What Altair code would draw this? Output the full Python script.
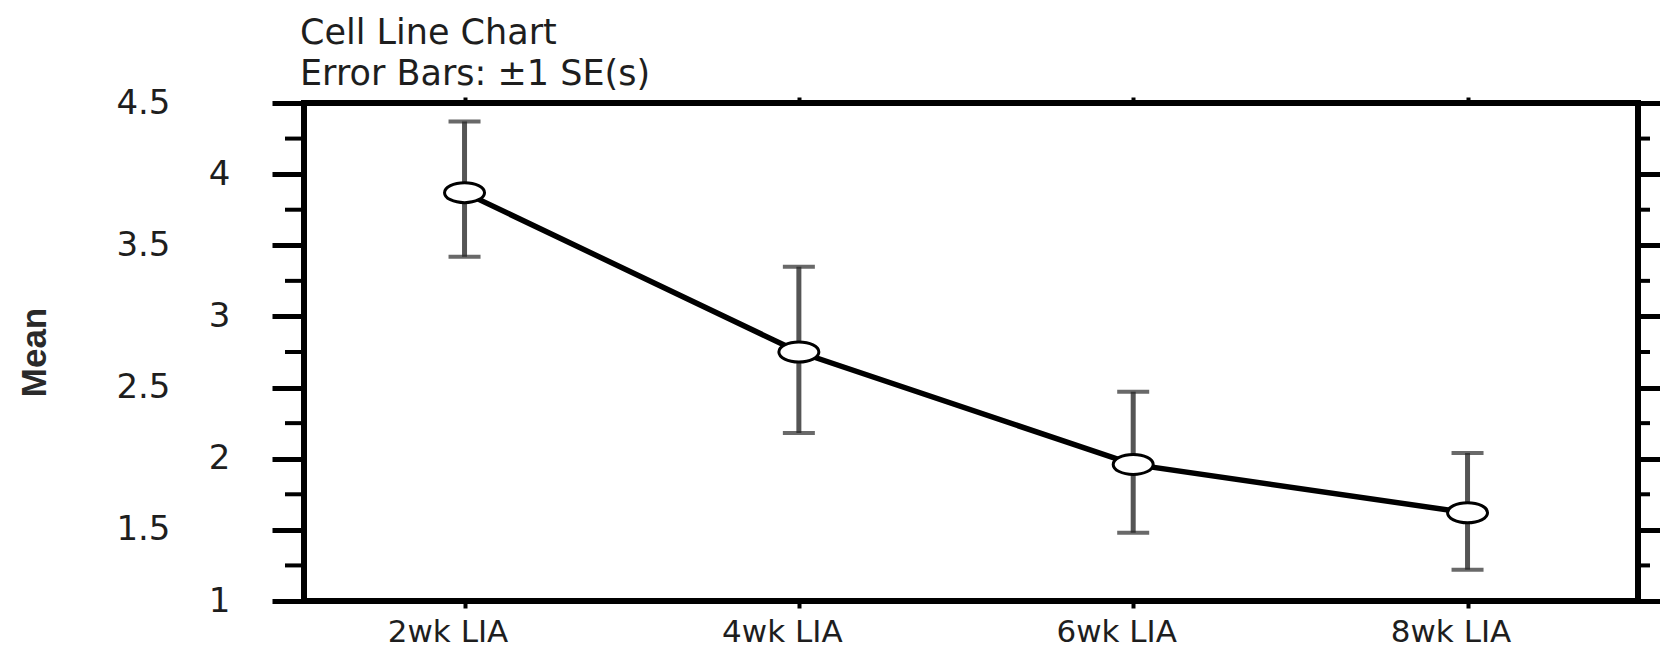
import altair as alt
import pandas as pd

# ---- data ----
categories = ["2wk LIA", "4wk LIA", "6wk LIA", "8wk LIA"]
means = [3.87, 2.75, 1.96, 1.62]
lower = [3.42, 2.18, 1.48, 1.22]
upper = [4.37, 3.35, 2.47, 2.04]
major_ticks = [1, 1.5, 2, 2.5, 3, 3.5, 4, 4.5]
minor_ticks = [1.25, 1.75, 2.25, 2.75, 3.25, 3.75, 4.25]

title_text = "Cell Line Chart"
subtitle_text = "Error Bars: \u00b11 SE(s)"
y_title = "Mean"

df = pd.DataFrame({"group": categories, "mean": means, "lower": lower, "upper": upper})
minor_df = pd.DataFrame({"v": minor_ticks})

W, H = 1334, 498
FONT = "DejaVu Sans"
TXT = "#1e1e1e"

x_scale = alt.Scale(type="point", domain=categories, padding=0.495, align=0.485)
y_scale = alt.Scale(domain=[1, 4.5], nice=False, zero=False)

base = alt.Chart(df)

# vertical error bars + left / bottom axes
err = base.mark_rule(color="#555555", strokeWidth=5).encode(
    x=alt.X("group:N", scale=x_scale, sort=categories,
            axis=alt.Axis(orient="bottom", title=None, labelAngle=0, domain=False,
                          ticks=True, tickSize=7, tickWidth=4, tickColor="black",
                          labelFont=FONT, labelFontSize=31, labelColor=TXT,
                          labelBaseline="alphabetic", labelPadding=33,
                          labelOffset=-17, grid=False)),
    y=alt.Y("lower:Q", scale=y_scale,
            axis=alt.Axis(orient="left", values=major_ticks, format="~g", grid=False,
                          domain=False, tickSize=32, tickWidth=5, tickColor="black",
                          labelFont=FONT, labelFontSize=34, labelColor=TXT,
                          labelAlign="right",
                          labelPadding={"condition": {"test": "datum.value % 1 == 0", "value": 42},
                                        "value": 102},
                          title=y_title, titleX=-270, titleY=H / 2, titleAngle=270,
                          titleAlign="center", titleBaseline="middle",
                          titleFont="Liberation Sans", titleFontSize=35,
                          titleFontWeight="bold", titleColor="#2a2a2a")),
    y2="upper:Q",
)

# caps + top / right axes
caps_lo = base.mark_tick(color="#2a2a2a", thickness=4, size=32, orient="horizontal").encode(
    x=alt.X("group:N", scale=x_scale, sort=categories,
            axis=alt.Axis(orient="top", title=None, labels=False, domain=False,
                          ticks=True, tickSize=6, tickWidth=4, tickColor="black", grid=False)),
    y=alt.Y("lower:Q", scale=y_scale,
            axis=alt.Axis(orient="right", values=major_ticks, labels=False, grid=False,
                          domain=False, tickSize=24, tickWidth=5, tickColor="black", title=None)),
)
caps_hi = base.mark_tick(color="#2a2a2a", thickness=4, size=32, orient="horizontal").encode(
    x=alt.X("group:N", scale=x_scale, sort=categories, axis=None),
    y=alt.Y("upper:Q", scale=y_scale, axis=None),
)

line = base.mark_line(color="black", strokeWidth=5.5).encode(
    x=alt.X("group:N", scale=x_scale, sort=categories, axis=None),
    y=alt.Y("mean:Q", scale=y_scale, axis=None),
)

ellipse = "M -1 0 A 1 0.5 0 1 0 1 0 A 1 0.5 0 1 0 -1 0 Z"
points = base.mark_point(shape=ellipse, size=1600, filled=True, fill="white",
                         stroke="black", strokeWidth=3, opacity=1).encode(
    x=alt.X("group:N", scale=x_scale, sort=categories, axis=None),
    y=alt.Y("mean:Q", scale=y_scale, axis=None),
)

minor_left = alt.Chart(minor_df).mark_rule(color="black", strokeWidth=4).encode(
    y=alt.Y("v:Q", scale=y_scale, axis=None),
    x=alt.value(-19), x2=alt.value(0),
)
minor_right = alt.Chart(minor_df).mark_rule(color="black", strokeWidth=4).encode(
    y=alt.Y("v:Q", scale=y_scale, axis=None),
    x=alt.value(W), x2=alt.value(W + 12),
)

chart = alt.layer(err, caps_lo, caps_hi, line, points, minor_left, minor_right).resolve_scale(
    x="shared", y="shared"
).resolve_axis(
    x="independent", y="independent"
).properties(
    width=W, height=H,
    autosize=alt.AutoSizeParams(type="none"),
    padding={"left": 296, "top": 95, "right": 22, "bottom": 47},
    title=alt.TitleParams(text=title_text, subtitle=subtitle_text, anchor="start",
                          frame="group", dx=-4, dy=18, offset=12, font=FONT, fontSize=35,
                          fontWeight="normal", color=TXT, subtitleFont=FONT,
                          subtitleFontSize=35, subtitleColor=TXT, subtitlePadding=6),
).configure(
    background="white"
).configure_view(
    stroke="black", strokeWidth=6
)

chart.save("out.html", embed_options={"renderer": "svg", "actions": False})
